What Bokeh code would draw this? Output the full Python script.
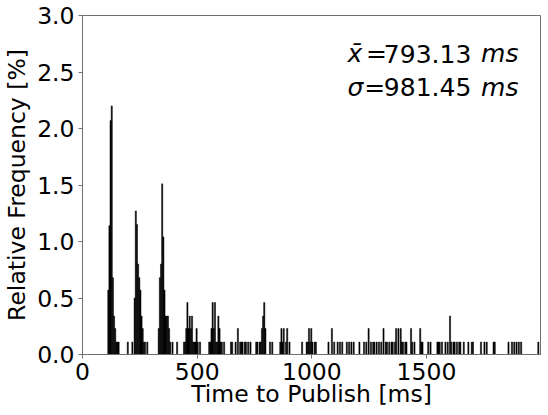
from bokeh.plotting import figure
from bokeh.models import FixedTicker, NumeralTickFormatter, Label, Range1d
from bokeh.embed import file_html
from bokeh.resources import INLINE

# ---- data ----
BIN_WIDTH = 5  # ms
bin_left_ms = [
    110, 115, 120, 125, 130, 135, 140, 145, 150, 155,
    195, 215,
    225, 230, 235, 240, 245, 250, 255, 260, 265, 270, 280,
    330, 335, 340, 345, 350, 355, 360, 365, 370, 375, 380,
    390, 410,
    440, 445, 450, 455, 460, 465, 470, 475, 480, 485, 490, 495, 500, 510,
    550, 555, 560, 565, 570, 575, 580, 585, 590, 595, 600, 605, 615,
    645, 650, 665, 675, 685,
    690, 695, 705, 710, 720, 730, 755, 760, 770, 775,
    780, 785, 790, 795, 815, 825,
    860, 865, 870, 875, 885, 890, 900,
    955, 975, 980, 985, 990, 995, 1000, 1010, 1015,
    1070, 1085, 1095, 1110, 1120, 1130, 1150, 1160, 1170, 1180, 1205,
    1225, 1235, 1245, 1255, 1265, 1270, 1280, 1290, 1300, 1310, 1320,
    1325, 1335, 1345, 1350, 1360, 1365, 1375, 1385,
    1390, 1395, 1405, 1410, 1430, 1435, 1445, 1470, 1475, 1480,
    1505, 1515, 1545, 1550, 1555, 1565, 1580, 1590, 1600, 1605,
    1615, 1620, 1630, 1640, 1645, 1660, 1680, 1695,
    1700, 1735, 1750, 1760, 1790, 1795, 1855, 1870, 1880, 1890,
    1900, 1910, 1985,
]
rel_freq_pct = [
    0.57, 1.14, 2.07, 2.20, 0.68, 0.34, 0.23, 0.11, 0.11, 0.11,
    0.11, 0.11,
    0.50, 1.27, 1.15, 0.80, 0.68, 0.57, 0.34, 0.23, 0.11, 0.11, 0.11,
    0.23, 0.68, 0.80, 1.51, 1.04, 0.57, 0.34, 0.34, 0.34, 0.23, 0.11,
    0.11, 0.11,
    0.11, 0.11, 0.23, 0.46, 0.23, 0.34, 0.23, 0.34, 0.11, 0.11, 0.11, 0.23, 0.11, 0.11,
    0.11, 0.11, 0.23, 0.46, 0.23, 0.46, 0.11, 0.11, 0.34, 0.23, 0.11, 0.11, 0.11,
    0.11, 0.11, 0.11, 0.23, 0.11,
    0.11, 0.11, 0.11, 0.11, 0.11, 0.11, 0.11, 0.11, 0.11, 0.11,
    0.23, 0.34, 0.46, 0.23, 0.11, 0.11,
    0.11, 0.23, 0.11, 0.23, 0.11, 0.23, 0.11,
    0.11, 0.11, 0.11, 0.23, 0.11, 0.23, 0.11, 0.11, 0.11,
    0.11, 0.23, 0.11, 0.11, 0.11, 0.11, 0.11, 0.11, 0.11, 0.11, 0.11,
    0.11, 0.11, 0.23, 0.11, 0.11, 0.11, 0.11, 0.11, 0.11, 0.23, 0.11,
    0.11, 0.11, 0.11, 0.11, 0.11, 0.23, 0.23, 0.23,
    0.11, 0.11, 0.11, 0.11, 0.23, 0.11, 0.11, 0.23, 0.11, 0.11,
    0.11, 0.11, 0.11, 0.11, 0.11, 0.11, 0.11, 0.11, 0.34, 0.11,
    0.11, 0.11, 0.11, 0.11, 0.11, 0.11, 0.11, 0.11,
    0.11, 0.11, 0.11, 0.11, 0.11, 0.11, 0.11, 0.11, 0.11, 0.11,
    0.11, 0.11, 0.11,
]
x_ticks = [0, 500, 1000, 1500]
y_ticks = [0.0, 0.5, 1.0, 1.5, 2.0, 2.5, 3.0]
x_max = 1997
y_max = 3.0
x_label = "Time to Publish [ms]"
y_label = "Relative Frequency [%]"
mean_text = "793.13"
std_text = "981.45"

FONT = "DejaVu Sans"
AXC = "#707070"
FS = "23.5px"

p = figure(width=548, height=415, output_backend="svg", toolbar_location=None,
           x_range=Range1d(0, x_max), y_range=Range1d(0, y_max),
           min_border_left=82, min_border_right=8, min_border_top=15, min_border_bottom=61)

rights = [b + BIN_WIDTH for b in bin_left_ms]
p.quad(left=bin_left_ms, right=rights, bottom=0, top=rel_freq_pct,
       fill_color="black", line_color="black", line_width=0.5)

p.xgrid.visible = False
p.ygrid.visible = False
p.outline_line_color = AXC
p.outline_line_width = 1
p.background_fill_color = "white"
p.border_fill_color = "white"

for ax in (p.xaxis[0], p.yaxis[0]):
    ax.axis_line_color = AXC
    ax.major_tick_line_color = AXC
    ax.minor_tick_line_color = None
    ax.major_tick_out = 4
    ax.major_tick_in = 0
    ax.major_label_text_font = FONT
    ax.major_label_text_font_size = FS
    ax.major_label_text_color = "black"
    ax.axis_label_text_font = FONT
    ax.axis_label_text_font_size = FS
    ax.axis_label_text_font_style = "normal"
    ax.axis_label_text_color = "black"

p.xaxis.ticker = FixedTicker(ticks=x_ticks)
p.yaxis.ticker = FixedTicker(ticks=y_ticks)
p.yaxis.formatter = NumeralTickFormatter(format="0.0")
p.xaxis.axis_label = x_label
p.yaxis.axis_label = y_label
p.xaxis.major_label_standoff = 4
p.yaxis.major_label_standoff = 4
p.xaxis.axis_label_standoff = -3
p.yaxis.axis_label_standoff = 3

def lab(x, y, t, style="normal"):
    p.add_layout(Label(x=x, y=y, text=t, text_font=FONT, text_font_size="25px",
                       text_font_style=style, text_color="black",
                       text_align="left", text_baseline="alphabetic"))

lab(1155, 2.661, "x\u0304", "italic")
lab(1236, 2.661, "=")
lab(1314, 2.661, mean_text)
lab(1738, 2.661, "ms", "italic")
lab(1155, 2.365, "\u03c3", "italic")
lab(1228, 2.365, "=")
lab(1314, 2.365, std_text)
lab(1738, 2.365, "ms", "italic")

open("out.html", "w").write(file_html(p, INLINE))
